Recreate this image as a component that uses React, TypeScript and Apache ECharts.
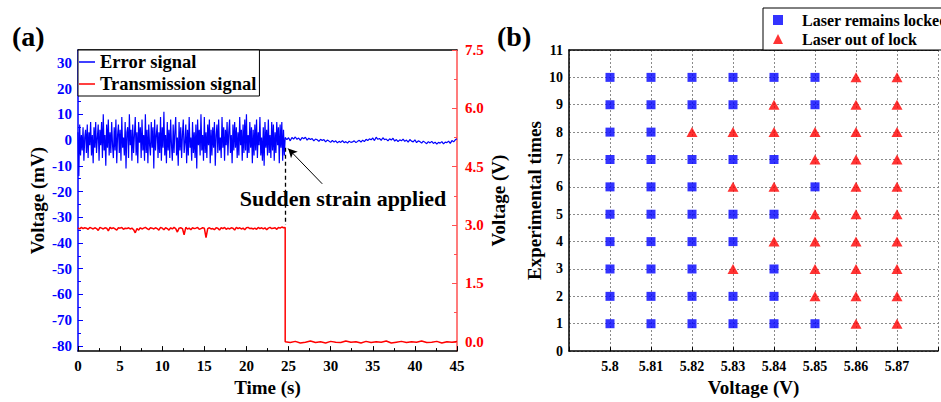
import React, { useEffect, useRef } from "react";
import * as echarts from "echarts";

// ---------- Panel (a) data ----------
const errorStartTime = 0;
const errorStep = 0.1; // s
const errorBefore: number[] = [
  3, -14, 6, -6, 2, -4, 5, -8, 1, 4,
  -5, 6, -7, 3, -2, 7, -6, 2, -9, 5,
  -3, 7, -5, 1, 6, -8, 4, -2, 7, -7,
  10, -4, 2, -10, 6, -3, 8, -6, 3, -5,
  7, -2, -7, 5, -4, 8, -9, 2, 6, -5,
  4, -8, 9, -3, 1, -6, 7, -11, 3, 5,
  -7, 10, -2, 4, -8, 6, -5, 2, 9, -6,
  3, -9, 7, -1, 5, -7, 8, -4, 2, -8,
  10, -5, 4, -9, 6, -2, -6, 7, -3, 5,
  -11, 8, -4, 2, 6, -7, 3, -5, 9, -8,
  5, -3, 11, -6, 2, -9, 7, -4, 4, -7,
  8, -2, -8, 6, -5, 3, 9, -6, 1, -10,
  7, -4, 5, -7, 2, 8, -5, -1, 6, -9,
  4, -6, 9, -3, 1, -8, 7, -5, 3, -7,
  6, -11, 8, -2, 4, -6, 10, -4, 2, -8,
  9, -5, 3, -7, 6, -2, 8, -9, 4, -6,
  5, -3, 7, -10, 2, 6, -5, 8, -4, 1,
  -7, 9, -3, 5, -8, 4, -2, 7, -6, 3,
  8, -5, 2, -9, 6, -4, 7, -3, 5, -7,
  3, -6, 9, -2, 4, -8, 6, -5, 8, -4,
  10, -7, 2, -5, 7, -3, 5, -9, 4, -6,
  6, -4, 8, -7, 3, -2, 9, -6, 1, -8,
  5, -10, 7, -3, 4, -6, 8, -5, 2, -7,
  7, -4, 6, -8, 3, -5, 7, -2, 5, -9,
  6, -3, 7, -8, 4, -6, 1,
];
const errorAfterStart = 24.8;
const errorAfterStep = 0.2;
const errorAfter: number[] = [
  0.2, 0.9, -0.3, 1.0, 0.4,
  1.2, 0.3, 0.8, -0.1, 1.0,
  0.5, 1.1, 0.0, 0.7, 0.2,
  0.6, -0.3, 0.4, 0.1, -0.5,
  0.3, -0.2, 0.2, -0.7, 0.0,
  -0.4, -0.9, -0.1, -0.8, -0.3,
  -1.1, -0.5, -0.9, -0.2, -1.0,
  -0.6, -1.2, -0.4, -0.9, -0.7,
  -0.3, -1.0, -0.5, -0.1, -0.8,
  0.0, -0.6, 0.3, -0.2, 0.5,
  0.1, 0.8, -0.2, 1.1, 0.3,
  0.6, -0.1, 0.9, 0.2, 0.4,
  -0.3, 0.5, 0.0, 0.7, -0.4,
  0.2, -0.6, 0.1, -0.3, 0.4,
  -0.5, 0.0, -0.8, 0.2, -0.4,
  -0.7, 0.1, -1.0, -0.3, -0.6,
  -1.2, -0.4, -0.9, -1.4, -0.6,
  -1.1, -0.5, -1.3, -0.8, -1.6,
  -0.9, -1.2, -0.6, -1.5, -0.8,
  -1.0, -0.4, -1.3, -0.2, -0.7,
  0.1, 0.5,
];
const transStartTime = 0;
const transStep = 0.2;
const transBefore: number[] = [
  2.93, 2.90, 2.94, 2.91, 2.93,
  2.92, 2.89, 2.94, 2.92, 2.90,
  2.93, 2.91, 2.86, 2.94, 2.92,
  2.90, 2.93, 2.92, 2.85, 2.94,
  2.91, 2.93, 2.90, 2.87, 2.93,
  2.92, 2.94, 2.89, 2.92, 2.91,
  2.93, 2.90, 2.92, 2.88, 2.80,
  2.91, 2.87, 2.93, 2.90, 2.92,
  2.94, 2.91, 2.88, 2.93, 2.92,
  2.90, 2.93, 2.91, 2.87, 2.94,
  2.92, 2.88, 2.93, 2.91, 2.87,
  2.93, 2.90, 2.94, 2.91, 2.82,
  2.92, 2.93, 2.91, 2.75, 2.94,
  2.90, 2.92, 2.88, 2.93, 2.91,
  2.92, 2.94, 2.89, 2.91, 2.93,
  2.92, 2.68, 2.91, 2.93, 2.90,
  2.91, 2.88, 2.93, 2.92, 2.87,
  2.93, 2.91, 2.94, 2.89, 2.92,
  2.90, 2.93, 2.92, 2.87, 2.94,
  2.91, 2.93, 2.90, 2.92, 2.88,
  2.93, 2.94, 2.91, 2.92, 2.90,
  2.92, 2.89, 2.94, 2.91, 2.93,
  2.90, 2.93, 2.88, 2.92, 2.94,
  2.91, 2.92, 2.93, 2.89, 2.94,
  2.92, 2.95, 2.93, 2.94,
];
const strainTime = 24.6; // s, when the strain is applied
const transAfterStep = 0.6;
const transAfter: number[] = [
  0.0, -0.02, 0.01, -0.03, -0.01, 0.02, -0.02, 0.0, -0.03, 0.01,
  -0.01, -0.02, 0.02, -0.01, 0.0, -0.03, 0.01, -0.02, 0.0, -0.01,
  0.02, -0.03, -0.01, 0.01, -0.02, 0.0, -0.01, 0.02, -0.02, -0.01,
  0.01, -0.03, 0.0, -0.01, 0.01,
];
const leftTicks = [-80, -70, -60, -50, -40, -30, -20, -10, 0, 10, 20, 30];
const leftMinorTicks = [-75, -65, -55, -45, -35, -25, -15, -5, 5, 15, 25];
const rightTicks = [0, 1.5, 3, 4.5, 6, 7.5];
const rightMinorTicks = [0.75, 2.25, 3.75, 5.25, 6.75];
const dashStart = -3; // mV
const dashEnd = -33; // mV
const arrowFrom = [29.0, -17];
const arrowTo = [24.95, -3.3];

// ---------- Panel (b) data ----------
const voltages = [5.8, 5.81, 5.82, 5.83, 5.84, 5.85, 5.86, 5.87];
const trials = [1, 2, 3, 4, 5, 6, 7, 8, 9, 10];
// 1 = laser remains locked, 0 = laser out of lock (trial 1..10)
const lockState: number[][] = [
  [1, 1, 1, 1, 1, 1, 1, 1, 1, 1],
  [1, 1, 1, 1, 1, 1, 1, 1, 1, 1],
  [1, 1, 1, 1, 1, 1, 1, 0, 1, 1],
  [1, 1, 0, 1, 1, 0, 1, 0, 1, 1],
  [1, 1, 1, 0, 1, 0, 1, 0, 0, 1],
  [1, 0, 0, 0, 0, 1, 0, 0, 1, 1],
  [0, 0, 0, 0, 0, 0, 0, 0, 0, 0],
  [0, 0, 0, 0, 0, 0, 0, 0, 0, 0],
];

const FONT = "'Liberation Serif', 'Times New Roman', serif";
const BLUE = "#0000ff";
const RED = "#ff0000";

export default function App() {
  const ref = useRef<HTMLDivElement>(null);

  useEffect(() => {
    document.body.style.margin = "0";
    if (!ref.current) return;
    const chart = echarts.init(ref.current, undefined, { renderer: "svg" });

    const errorData: number[][] = [
      ...errorBefore.map((v, i) => [+(errorStartTime + i * errorStep).toFixed(2), v]),
      ...errorAfter.map((v, i) => [+(errorAfterStart + i * errorAfterStep).toFixed(2), v]),
    ];
    const transData: number[][] = [
      ...transBefore.map((v, i) => [+(transStartTime + i * transStep).toFixed(2), v]),
      ...transAfter.map((v, i) => [+(strainTime + i * transAfterStep).toFixed(2), v]),
    ];
    const locked: number[][] = [];
    const unlocked: number[][] = [];
    voltages.forEach((vx, ci) => {
      trials.forEach((t, ri) => {
        (lockState[ci][ri] ? locked : unlocked).push([vx, t]);
      });
    });

    const labelBase = { fontFamily: FONT, fontWeight: "bold" as const };
    const nameStyle = { fontFamily: FONT, fontWeight: "bold" as const, fontSize: 19, color: "#000" };

    const option: any = {
      animation: false,
      textStyle: { fontFamily: FONT },
      grid: [
        { left: 78, top: 50, width: 379, height: 306 },
        { left: 569, top: 50, width: 380, height: 306 },
      ],
      legend: [
        {
          left: 78,
          top: 50,
          orient: "vertical",
          data: [
            { name: "Error signal", icon: "rect" },
            { name: "Transmission signal", icon: "rect" },
          ],
          borderColor: "#000",
          borderWidth: 1,
          padding: [2, 3, 2, 1],
          itemGap: 2,
          itemWidth: 16,
          itemHeight: 1.5,
          backgroundColor: "#fff",
          textStyle: { ...labelBase, fontSize: 18.5, color: "#000", lineHeight: 20 },
        },
        {
          left: 763,
          top: 8,
          orient: "vertical",
          data: [
            { name: "Laser remains locked", icon: "rect" },
            { name: "Laser out of lock", icon: "triangle" },
          ],
          borderColor: "#000",
          borderWidth: 1,
          padding: [3, 4, 2, 10],
          itemGap: 1,
          itemWidth: 10,
          itemHeight: 10,
          backgroundColor: "#fff",
          textStyle: { ...labelBase, fontSize: 16, color: "#000", lineHeight: 18, padding: [0, 0, 0, 14] },
        },
      ],
      xAxis: [
        {
          gridIndex: 0,
          type: "value",
          min: 0,
          max: 45,
          interval: 5,
          name: "Time (s)",
          nameLocation: "middle",
          nameGap: 24,
          nameTextStyle: nameStyle,
          axisLine: { onZero: false, lineStyle: { color: "#000", width: 1.5 } },
          axisTick: { inside: true, length: 5, lineStyle: { color: "#000" } },
          minorTick: { show: true, splitNumber: 2, length: 3, lineStyle: { color: "#000" } },
          axisLabel: { ...labelBase, fontSize: 15, color: "#000", margin: 7 },
          splitLine: { show: false },
        },
        {
          gridIndex: 0,
          type: "value",
          position: "top",
          min: 0,
          max: 45,
          axisLine: { onZero: false, lineStyle: { color: "#000", width: 1.5 } },
          axisTick: { show: false },
          axisLabel: { show: false },
          splitLine: { show: false },
        },
        {
          gridIndex: 1,
          type: "value",
          min: 5.79,
          max: 5.88,
          interval: 0.01,
          name: "Voltage (V)",
          nameLocation: "middle",
          nameGap: 25,
          nameTextStyle: nameStyle,
          axisLine: { onZero: false, lineStyle: { color: "#000", width: 1.5 } },
          axisTick: { inside: true, length: 4, lineStyle: { color: "#000" } },
          axisLabel: {
            ...labelBase,
            fontSize: 14,
            color: "#000",
            margin: 8,
            formatter: (v: number) =>
              Math.abs(v - 5.79) < 1e-6 || Math.abs(v - 5.88) < 1e-6 ? "" : String(+v.toFixed(2)),
          },
          splitLine: { show: true, lineStyle: { color: "#8a8a8a", type: [2, 2], width: 1 } },
        },
        {
          gridIndex: 1,
          type: "value",
          position: "top",
          min: 5.79,
          max: 5.88,
          axisLine: { onZero: false, lineStyle: { color: "#000", width: 1.5 } },
          axisTick: { show: false },
          axisLabel: { show: false },
          splitLine: { show: false },
        },
      ],
      yAxis: [
        {
          gridIndex: 0,
          type: "value",
          position: "left",
          min: -82,
          max: 35,
          name: "Voltage (mV)",
          nameLocation: "middle",
          nameGap: 31,
          nameTextStyle: nameStyle,
          axisLine: { onZero: false, lineStyle: { color: BLUE, width: 1.5 } },
          axisTick: { inside: true, length: 5, customValues: leftTicks, lineStyle: { color: BLUE } },
          axisLabel: { ...labelBase, fontSize: 15, color: BLUE, margin: 6, customValues: leftTicks },
          splitLine: { show: false },
        },
        {
          gridIndex: 0,
          type: "value",
          position: "right",
          min: -0.24,
          max: 7.5,
          name: "Voltage (V)",
          nameLocation: "middle",
          nameGap: 32,
          nameTextStyle: nameStyle,
          axisLine: { onZero: false, lineStyle: { color: "#ff5050", width: 1.5 } },
          axisTick: { inside: true, length: 5, customValues: rightTicks, lineStyle: { color: "#ff5050" } },
          axisLabel: {
            ...labelBase,
            fontSize: 15,
            color: RED,
            margin: 8,
            customValues: rightTicks,
            formatter: (v: number) => v.toFixed(1),
          },
          splitLine: { show: false },
        },
        {
          gridIndex: 0,
          type: "value",
          position: "left",
          min: -82,
          max: 35,
          axisLine: { show: false, onZero: false },
          axisTick: { inside: true, length: 3, customValues: leftMinorTicks, lineStyle: { color: BLUE } },
          axisLabel: { show: false },
          splitLine: { show: false },
        },
        {
          gridIndex: 0,
          type: "value",
          position: "right",
          min: -0.24,
          max: 7.5,
          axisLine: { show: false, onZero: false },
          axisTick: { inside: true, length: 3, customValues: rightMinorTicks, lineStyle: { color: "#ff5050" } },
          axisLabel: { show: false },
          splitLine: { show: false },
        },
        {
          gridIndex: 1,
          type: "value",
          min: 0,
          max: 11,
          interval: 1,
          name: "Experimental times",
          nameLocation: "middle",
          nameGap: 25,
          nameTextStyle: nameStyle,
          axisLine: { onZero: false, lineStyle: { color: "#000", width: 1.5 } },
          axisTick: { show: false },
          axisLabel: { ...labelBase, fontSize: 14, color: "#000", margin: 6 },
          splitLine: { show: true, lineStyle: { color: "#8a8a8a", type: [2, 2], width: 1 } },
        },
      ],
      series: [
        {
          name: "Transmission signal",
          type: "line",
          xAxisIndex: 0,
          yAxisIndex: 1,
          data: transData,
          symbol: "none",
          color: RED,
          lineStyle: { color: RED, width: 1.5 },
        },
        {
          name: "Error signal",
          type: "line",
          xAxisIndex: 0,
          yAxisIndex: 0,
          data: errorData,
          symbol: "none",
          color: BLUE,
          lineStyle: { color: BLUE, width: 1.2 },
          markLine: {
            silent: true,
            animation: false,
            label: { show: false },
            data: [
              [
                { coord: [strainTime, dashStart], symbol: "none", lineStyle: { color: "#000", type: [4, 3], width: 1.3 } },
                { coord: [strainTime, dashEnd], symbol: "none" },
              ],
              [
                { coord: arrowFrom, symbol: "none", lineStyle: { color: "#000", type: "solid", width: 1 } },
                { coord: arrowTo, symbol: "arrow", symbolSize: [7, 9] },
              ],
            ],
          },
        },
        {
          name: "Laser remains locked",
          type: "scatter",
          xAxisIndex: 2,
          yAxisIndex: 4,
          data: locked,
          symbol: "rect",
          symbolSize: 9,
          itemStyle: { color: BLUE },
        },
        {
          name: "Laser out of lock",
          type: "scatter",
          xAxisIndex: 2,
          yAxisIndex: 4,
          data: unlocked,
          symbol: "triangle",
          symbolSize: [11, 10],
          itemStyle: { color: RED },
        },
      ],
      graphic: [
        {
          type: "text",
          x: 12,
          y: 36,
          style: { text: "(a)", fontFamily: FONT, fontWeight: "bold", fontSize: 28, fill: "#000", align: "left", verticalAlign: "middle" },
        },
        {
          type: "text",
          x: 497,
          y: 36,
          style: { text: "(b)", fontFamily: FONT, fontWeight: "bold", fontSize: 28, fill: "#000", align: "left", verticalAlign: "middle" },
        },
        {
          type: "text",
          x: 343,
          y: 198,
          style: {
            text: "Sudden strain applied",
            fontFamily: FONT,
            fontWeight: "bold",
            fontSize: 22,
            fill: "#000",
            align: "center",
            verticalAlign: "middle",
          },
        },
      ],
    };

    chart.setOption(option);
    return () => chart.dispose();
  }, []);

  return <div ref={ref} style={{ width: 941, height: 402 }} />;
}
